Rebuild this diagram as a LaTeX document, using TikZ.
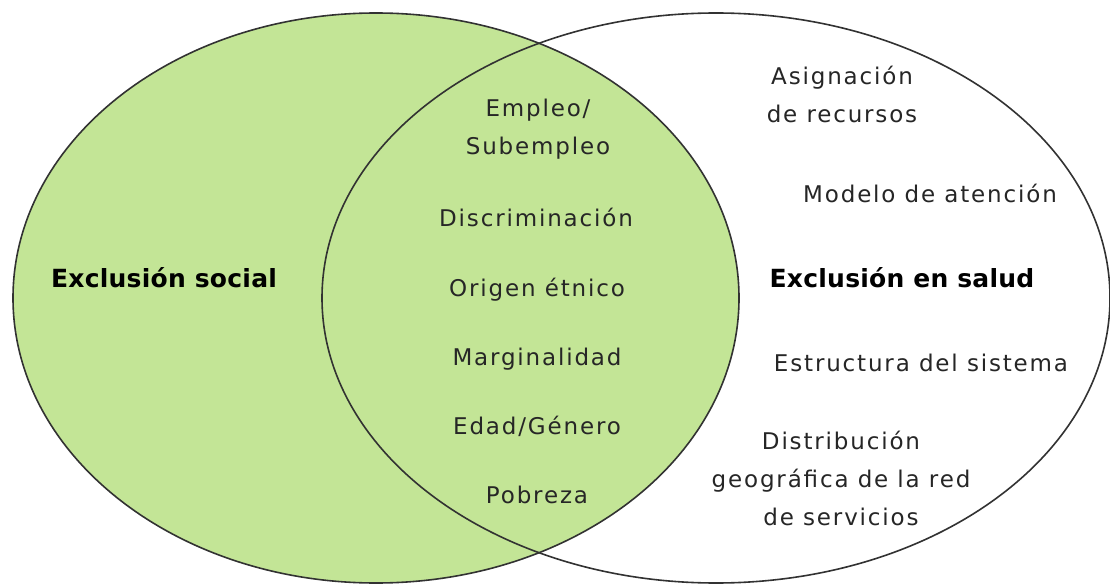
\documentclass[tikz,border=0pt]{standalone}
\usepackage{fontspec}
\setmainfont{DejaVu Sans}
\newfontfamily\labfont[LetterSpace=8]{DejaVu Sans}
\newfontfamily\ttlfont[LetterSpace=1]{DejaVu Sans}
\definecolor{setgreen}{RGB}{195,229,150}
\definecolor{setline}{RGB}{50,50,50}
\begin{document}
\begin{tikzpicture}[x=1pt,y=-1pt,
  lab/.style={font=\labfont\fontsize{23}{38}\selectfont, align=center, inner sep=0pt, anchor=base, text=black!85},
  ttl/.style={font=\ttlfont\bfseries\fontsize{25}{30}\selectfont, inner sep=0pt, anchor=base, text=black},
  setline/.style={draw=setline, line width=1.6pt}]
\useasboundingbox (0,0) rectangle (1110,585);
% sets
\fill[white] (716,298) ellipse [x radius=394pt, y radius=285pt];
\fill[setgreen] (376,298) ellipse [x radius=363pt, y radius=285pt];
\draw[setline] (376,298) ellipse [x radius=363pt, y radius=285pt];
\draw[setline] (716,298) ellipse [x radius=394pt, y radius=285pt];
% titles
\node[ttl] (social) at (164,287) {Exclusión social};
\node[ttl] (salud) at (902,287) {Exclusión en salud};
% intersection
\node[lab] (empleo) at (538,155) {Empleo/\\Subempleo};
\node[lab] (discrim) at (536,227) {Discriminación};
\node[lab] (origen) at (537,296) {Origen étnico};
\node[lab] (margin) at (537,365) {Marginalidad};
\node[lab] (edad) at (537,434) {Edad/Género};
\node[lab] (pobreza) at (537,503) {Pobreza};
% health only
\node[lab] (asign) at (842,123) {Asignación\\de recursos};
\node[lab] (modelo) at (930,203) {Modelo de atención};
\node[lab] (estruct) at (921,371) {Estructura del sistema};
\node[lab] (distrib) at (841,525) {Distribución\\geográfica de la red\\de servicios};
\end{tikzpicture}
\end{document}
